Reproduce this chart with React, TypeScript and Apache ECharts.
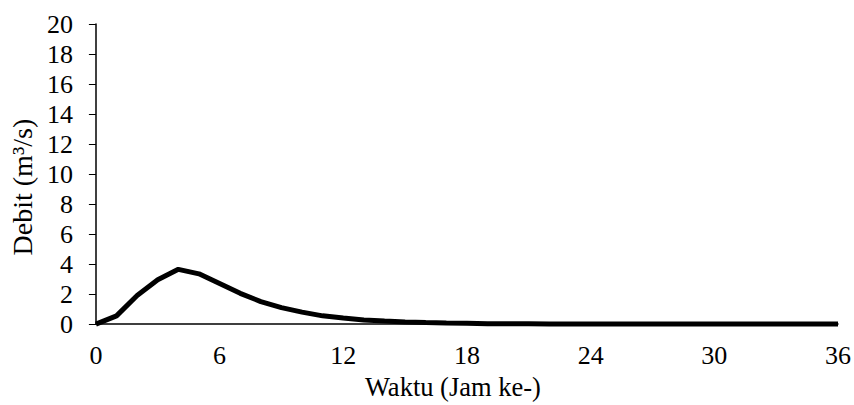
import React, { useEffect, useRef } from "react";
import * as echarts from "echarts";

const hours = [0,1,2,3,4,5,6,7,8,9,10,11,12,13,14,15,16,17,18,19,20,21,22,23,24,25,26,27,28,29,30,31,32,33,34,35,36];
const debit = [0,0.55,1.9,2.95,3.65,3.35,2.7,2.05,1.5,1.1,0.8,0.55,0.4,0.28,0.2,0.14,0.1,0.07,0.05,0.03,0.02,0.015,0.01,0.01,0.005,0.005,0,0,0,0,0,0,0,0,0,0,0];
const xTicks = [0, 6, 12, 18, 24, 30, 36];
const yTicks = [0, 2, 4, 6, 8, 10, 12, 14, 16, 18, 20];

const FONT = "'Liberation Serif', 'Times New Roman', serif";
const FS = 26;

export default function App() {
  const ref = useRef<HTMLDivElement>(null);
  useEffect(() => {
    if (!ref.current) return;
    const chart = echarts.init(ref.current, null, { renderer: "svg" });
    chart.setOption({
      animation: false,
      grid: { left: 94, right: 14, top: 24, bottom: 73, containLabel: false },
      xAxis: {
        type: "value",
        min: xTicks[0],
        max: xTicks[xTicks.length - 1],
        interval: 6,
        name: "Waktu (Jam ke-)",
        nameLocation: "middle",
        nameGap: 48,
        nameTextStyle: { fontFamily: FONT, fontSize: 26.5, color: "#000", padding: [0, 28, 0, 0] },
        axisLine: { show: true, lineStyle: { color: "#000", width: 1.5 } },
        axisTick: { show: false },
        splitLine: { show: false },
        axisLabel: { fontFamily: FONT, fontSize: FS, color: "#000", margin: 18 },
      },
      yAxis: {
        type: "value",
        min: yTicks[0],
        max: yTicks[yTicks.length - 1],
        interval: 2,
        name: "Debit (m³/s)",
        nameLocation: "middle",
        nameGap: 56,
        nameTextStyle: { fontFamily: FONT, fontSize: 28, color: "#000", padding: [0, 26, 0, 0] },
        axisLine: { show: true, lineStyle: { color: "#000", width: 1.5 } },
        axisTick: { show: true, inside: false, length: 7, lineStyle: { color: "#000", width: 1 } },
        splitLine: { show: false },
        axisLabel: { fontFamily: FONT, fontSize: FS, color: "#000", margin: 23 },
      },
      series: [
        {
          type: "line",
          data: hours.map((h, i) => [h, debit[i]]),
          showSymbol: false,
          lineStyle: { color: "#000", width: 5 },
          clip: false,
        },
      ],
    });
    return () => chart.dispose();
  }, []);
  return (
    <div
      ref={ref}
      style={{ position: "absolute", left: 0, top: 0, width: 854, height: 405 }}
    />
  );
}
